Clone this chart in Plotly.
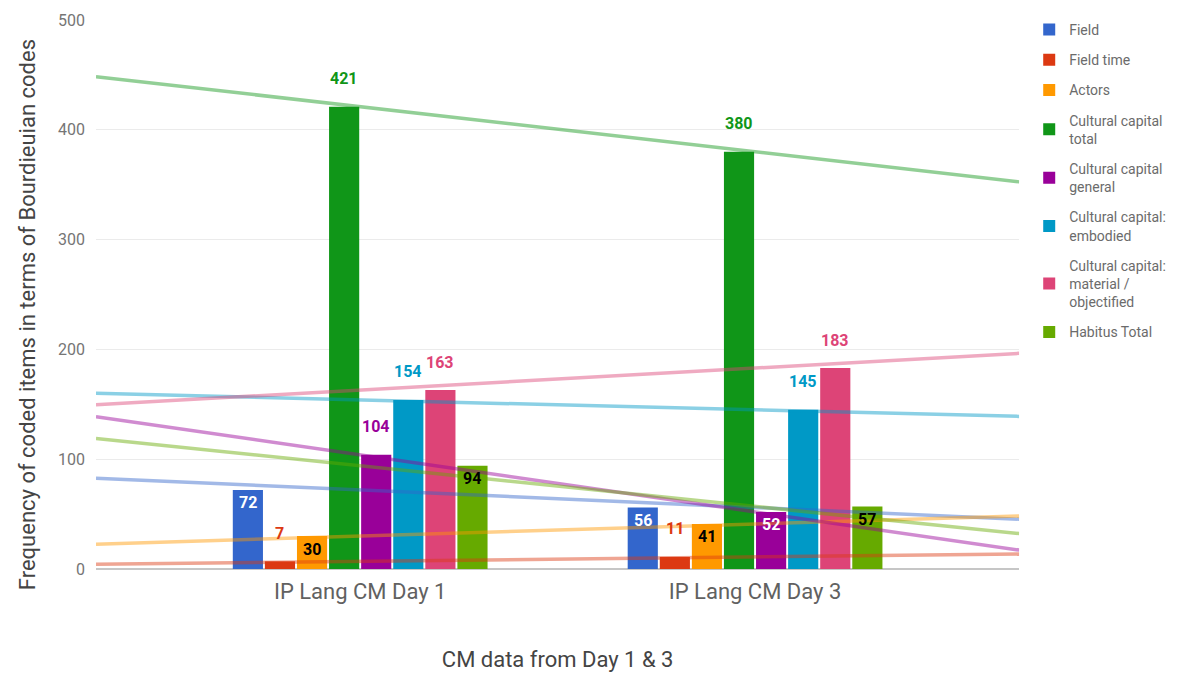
import plotly.graph_objects as go

# Coded-item counts per Bourdieuian code for the two CM sessions
categories = ["IP Lang CM Day 1", "IP Lang CM Day 3"]
series_names = [
    "Field",
    "Field time",
    "Actors",
    "Cultural capital<br>total",
    "Cultural capital<br>general",
    "Cultural capital:<br>embodied",
    "Cultural capital:<br>material /<br>objectified",
    "Habitus Total",
]
field = [72, 56]
field_time = [7, 11]
actors = [30, 41]
cc_total = [421, 380]
cc_general = [104, 52]
cc_embodied = [154, 145]
cc_material = [163, 183]
habitus_total = [94, 57]

values = [field, field_time, actors, cc_total, cc_general, cc_embodied, cc_material, habitus_total]

colors = ["#3366cc", "#dc3912", "#ff9900", "#109618", "#990099", "#0099c6", "#dd4477", "#66aa00"]

# value labels drawn inside the bar top: (series index, category index) -> text colour
inside_labels = {
    (0, 0): "#ffffff", (0, 1): "#ffffff",
    (2, 0): "#000000", (2, 1): "#000000",
    (4, 1): "#ffffff",
    (7, 0): "#000000", (7, 1): "#000000",
}

xpos = [1, 2]
x_range = [0.331, 2.669]
bargap = 0.35
bargroupgap = 0.06

# page geometry (px)
W, H = 1183, 677
M_L, M_R, M_T, M_B = 96, 80, 20, 108
PLOT_RIGHT = 1022
paper_w = W - M_L - M_R
paper_h = H - M_T - M_B
x_domain_end = (PLOT_RIGHT - M_L) / paper_w

fig = go.Figure()

for i, (name, vals, col) in enumerate(zip(series_names, values, colors)):
    fig.add_trace(go.Bar(
        x=xpos, y=vals, name=name, marker=dict(color=col, line=dict(width=0)),
        legendgroup=f"g{i}", hoverinfo="y+name",
    ))

# linear trendlines through each series, spanning the full plot width
for i, (vals, col) in enumerate(zip(values, colors)):
    slope = (vals[1] - vals[0]) / (xpos[1] - xpos[0])
    xs = [x_range[0], x_range[1]]
    ys = [vals[0] + slope * (x - xpos[0]) for x in xs]
    fig.add_trace(go.Scatter(
        x=xs, y=ys, mode="lines", line=dict(color=col, width=3.5),
        opacity=0.45, showlegend=False, legendgroup=f"g{i}", hoverinfo="skip",
    ))

# value labels
n = len(values)
slot = (1 - bargap) / n
annotations = []
for i, (vals, col) in enumerate(zip(values, colors)):
    for j, v in enumerate(vals):
        bx = xpos[j] - (1 - bargap) / 2 + slot * (i + 0.5)
        if (i, j) in inside_labels:
            tcol = inside_labels[(i, j)]
            shift = -13
        else:
            tcol = col
            shift = 28
        annotations.append(dict(
            x=bx, y=v, xref="x", yref="y", text=f"<b>{v}</b>", showarrow=False,
            yshift=shift, font=dict(family="Roboto", size=16, color=tcol),
            xanchor="center", yanchor="middle",
        ))

# vertical axis title
annotations.append(dict(
    x=(27 - M_L) / paper_w, y=(H - M_B - 315) / paper_h, xref="paper", yref="paper",
    text="Frequency of coded items in terms of Bourdieuian codes", textangle=-90,
    showarrow=False, xanchor="center", yanchor="middle",
    font=dict(family="Roboto", size=22, color="#444444"),
))

fig.update_layout(
    width=W, height=H,
    margin=dict(l=M_L, r=M_R, t=M_T, b=M_B),
    paper_bgcolor="white", plot_bgcolor="white",
    barmode="group", bargap=bargap, bargroupgap=bargroupgap,
    font=dict(family="Roboto", color="#616161"),
    annotations=annotations,
    legend=dict(
        x=(1032 - M_L) / paper_w, y=1.0 + 6 / paper_h, xanchor="left", yanchor="top",
        font=dict(family="Roboto", size=14, color="#6b6b6b"),
        tracegroupgap=9, itemclick=False, itemdoubleclick=False,
    ),
    xaxis=dict(
        domain=[0, x_domain_end],
        range=x_range, tickmode="array", tickvals=xpos, ticktext=categories,
        showgrid=False, zeroline=False, showline=False, ticks="",
        tickfont=dict(family="Roboto", size=22, color="#616161"),
        ticklabelstandoff=7,
        title=dict(text="CM data from Day 1 & 3", font=dict(family="Roboto", size=22, color="#444444"),
                   standoff=48),
        automargin=False,
    ),
    yaxis=dict(
        range=[0, 500], dtick=100, showgrid=True, gridcolor="#ebebeb", gridwidth=1,
        zeroline=True, zerolinecolor="#c6c6c6", zerolinewidth=1.5, showline=False, ticks="",
        tickfont=dict(family="Roboto", size=16, color="#757575"),
        ticklabelstandoff=10,
        automargin=False,
    ),
)

fig.write_html("out.html")
